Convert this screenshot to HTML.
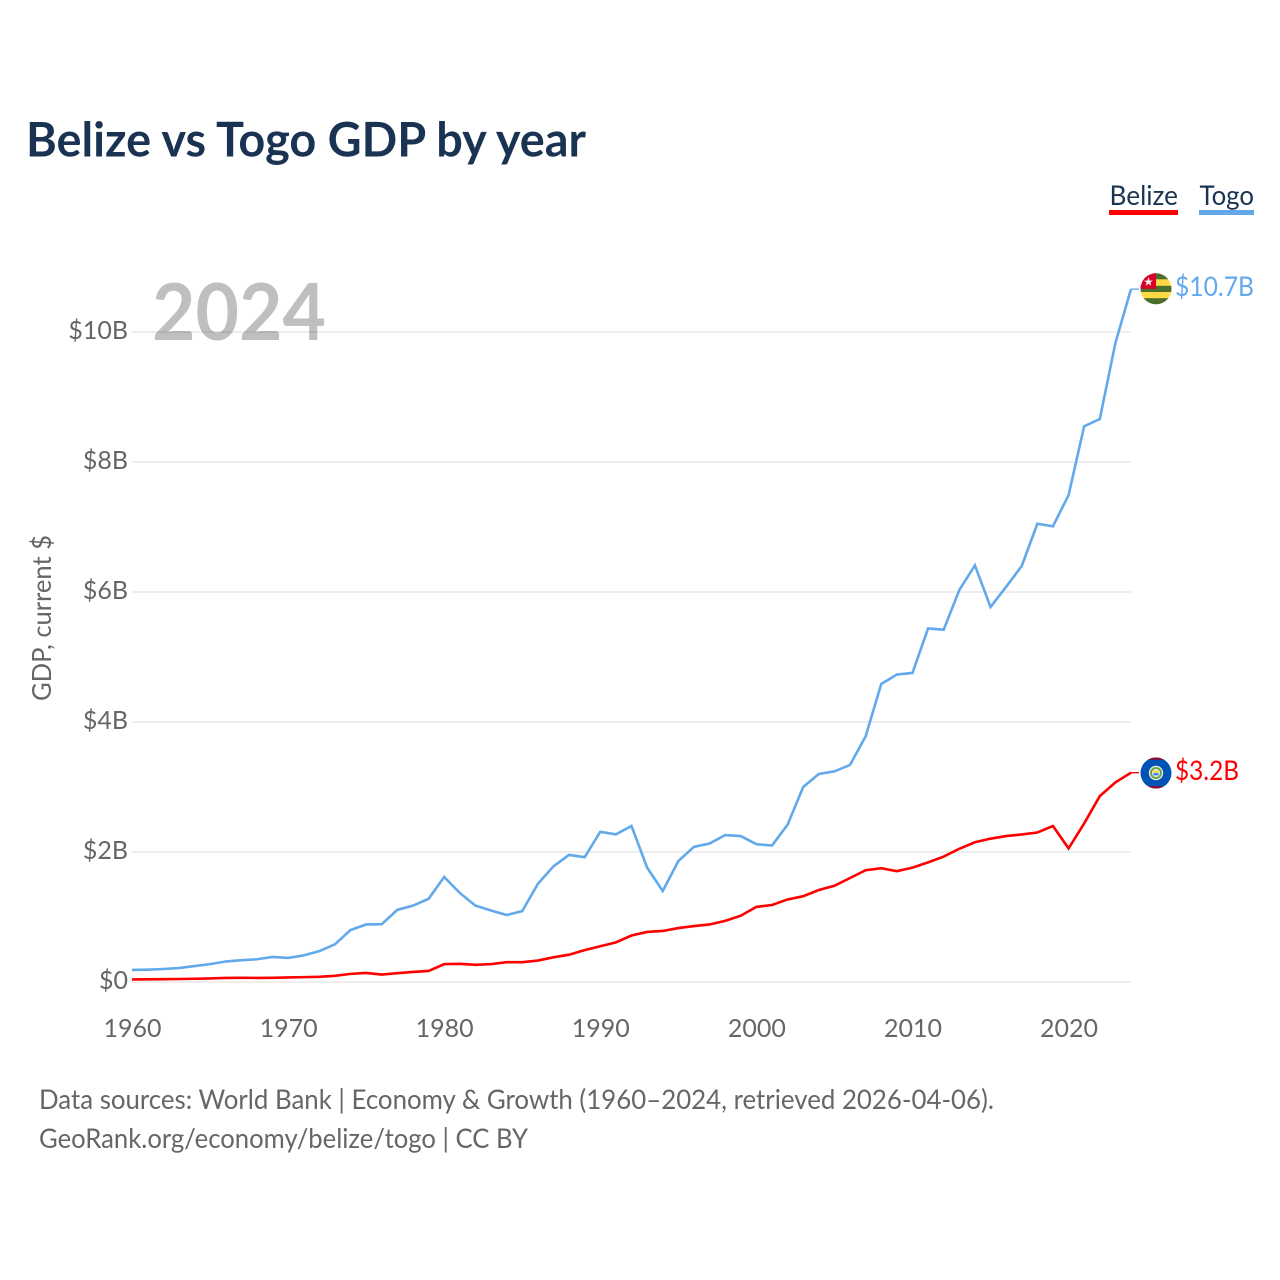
<!DOCTYPE html>
<html lang="en">
<head>
<meta charset="utf-8">
<title>Belize vs Togo GDP by year</title>
<style>
html,body{margin:0;padding:0;background:#fff;}
svg{display:block;font-family:Lato,Carlito,"Liberation Sans",sans-serif;}
</style>
</head>
<body>
<svg id="chart" xmlns="http://www.w3.org/2000/svg" width="1280" height="1280" viewBox="0 0 1280 1280">
  <defs>
    <clipPath id="flag-clip"><circle cx="0" cy="0" r="15.5"></circle></clipPath>
  </defs>
  <rect x="0" y="0" width="1280" height="1280" fill="#ffffff"></rect>
  <text x="26" y="156.5" font-size="48" font-weight="700" fill="#1a3353" textLength="560" lengthAdjust="spacingAndGlyphs">Belize vs Togo GDP by year</text>

  <text x="152" y="340" font-size="79" font-weight="700" fill="#bfbfbf" textLength="174" lengthAdjust="spacingAndGlyphs">2024</text>
  <g id="grid"></g>
  <g id="y-ticks"></g>
  <g id="x-ticks"></g>
  <text transform="translate(51,701) rotate(-90)" x="0" y="0" font-size="26" fill="#666666" textLength="166" lengthAdjust="spacingAndGlyphs">GDP, current $</text>

  <g>
    <g>
      <text x="1109.5" y="205" font-size="27.5" fill="#1a3353" textLength="68.5" lengthAdjust="spacingAndGlyphs">Belize</text>
      <rect x="1109" y="210" width="69" height="5" fill="#ff0000"></rect>
    </g>
    <g>
      <text x="1199.5" y="205" font-size="27.5" fill="#1a3353" textLength="54.5" lengthAdjust="spacingAndGlyphs">Togo</text>
      <rect x="1199" y="210" width="55" height="5" fill="#62a9ec"></rect>
    </g>
  </g>

  <path id="line-togo" fill="none" stroke="#62a9ec" stroke-width="2.6" stroke-linejoin="miter"></path>
  <path id="line-belize" fill="none" stroke="#ff0000" stroke-width="2.6" stroke-linejoin="miter"></path>
  <path id="connector-togo" fill="none" stroke="#62a9ec" stroke-width="1.3"></path>
  <path id="connector-belize" fill="none" stroke="#ff0000" stroke-width="1.3"></path>

  <g id="flag-togo">
    <g clip-path="url(#flag-clip)">
      <rect x="-16" y="-16" width="32" height="32" fill="#ffda44"></rect>
      <rect x="-16" y="-16" width="32" height="6.5" fill="#496e2d"></rect>
      <rect x="-16" y="-3" width="32" height="6.2" fill="#496e2d"></rect>
      <rect x="-16" y="9.4" width="32" height="6.6" fill="#496e2d"></rect>
      <rect x="-16" y="-16" width="16" height="16" fill="#d80027"></rect>
      <polygon points="-7.5,-11.5 -6.3,-8.2 -3,-8.2 -5.7,-6.2 -4.7,-3 -7.5,-5 -10.3,-3 -9.3,-6.2 -12,-8.2 -8.7,-8.2" fill="#f5f0f0"></polygon>
    </g>
  </g>
  <g id="flag-belize">
    <g clip-path="url(#flag-clip)">
      <rect x="-16" y="-16" width="32" height="32" fill="#0052b4"></rect>
      <rect x="-16" y="-16" width="32" height="2.6" fill="#a2001d"></rect>
      <rect x="-16" y="13.4" width="32" height="2.6" fill="#a2001d"></rect>
      <circle cx="0" cy="0" r="7.2" fill="#eeeeee"></circle>
      <circle cx="0" cy="0" r="5" fill="none" stroke="#6da544" stroke-width="2"></circle>
      <rect x="-2.6" y="-2.6" width="5.2" height="2.6" fill="#ffda44"></rect>
      <rect x="-2.6" y="0" width="5.2" height="2.4" fill="#338af3"></rect>
    </g>
  </g>
  <text id="end-label-togo" x="1175" font-size="27" fill="#62a9ec" textLength="79" lengthAdjust="spacingAndGlyphs"></text>
  <text id="end-label-belize" x="1175" font-size="27" fill="#ff0000" textLength="64" lengthAdjust="spacingAndGlyphs"></text>

  <g>
    <text x="39" y="1109" font-size="27.5" fill="#666666" textLength="955" lengthAdjust="spacingAndGlyphs">Data sources: World Bank | Economy &amp; Growth (1960–2024, retrieved 2026-04-06).</text>
    <text x="39" y="1148" font-size="27.5" fill="#666666" textLength="489" lengthAdjust="spacingAndGlyphs">GeoRank.org/economy/belize/togo | CC BY</text>
  </g>
</svg>
<script>
var startYear = 1960;
var xTickYears = [1960, 1970, 1980, 1990, 2000, 2010, 2020];
var yTickValues = [0, 2, 4, 6, 8, 10];
var yTickLabels = ["$0", "$2B", "$4B", "$6B", "$8B", "$10B"];
var togoValues = [0.185,0.19,0.2,0.215,0.245,0.275,0.315,0.335,0.35,0.385,0.37,0.41,0.475,0.58,0.8,0.885,0.89,1.11,1.175,1.28,1.615,1.37,1.175,1.1,1.03,1.09,1.51,1.78,1.955,1.92,2.31,2.27,2.4,1.76,1.4,1.86,2.08,2.13,2.26,2.245,2.12,2.1,2.42,3.0,3.2,3.24,3.34,3.78,4.585,4.73,4.755,5.44,5.42,6.03,6.41,5.77,6.08,6.4,7.05,7.01,7.49,8.55,8.66,9.83,10.66];
var belizeValues = [0.04,0.041,0.043,0.046,0.05,0.055,0.062,0.065,0.063,0.065,0.07,0.075,0.08,0.095,0.125,0.14,0.115,0.135,0.155,0.17,0.275,0.28,0.265,0.275,0.305,0.305,0.33,0.38,0.42,0.49,0.55,0.61,0.715,0.77,0.785,0.83,0.86,0.885,0.94,1.02,1.155,1.185,1.27,1.32,1.415,1.48,1.6,1.72,1.75,1.705,1.76,1.84,1.93,2.05,2.15,2.205,2.245,2.27,2.3,2.4,2.055,2.44,2.86,3.07,3.22];

var SVG_NS = "http://www.w3.org/2000/svg";
function xScale(year) { return 132 + (year - 1960) * (1131 - 132) / 64; }
function yScale(value) { return 982 - value * 65; }
function linePath(values) {
  var d = "";
  for (var i = 0; i < values.length; i++) {
    d += (i ? "L" : "M") + xScale(startYear + i).toFixed(2) + " " + yScale(values[i]).toFixed(2);
  }
  return d;
}
function endLabel(value) { return "$" + value.toFixed(1) + "B"; }

var gridGroup = document.getElementById("grid");
var yTickGroup = document.getElementById("y-ticks");
var xTickGroup = document.getElementById("x-ticks");

yTickValues.forEach(function (v, i) {
  var line = document.createElementNS(SVG_NS, "line");
  
  
  line.setAttribute("x1", xScale(1960));
  line.setAttribute("x2", xScale(2024));
  line.setAttribute("y1", yScale(v));
  line.setAttribute("y2", yScale(v));
  line.setAttribute("stroke", "#000000");
  line.setAttribute("stroke-opacity", "0.065");
  line.setAttribute("stroke-width", "2");
  gridGroup.appendChild(line);

  var label = document.createElementNS(SVG_NS, "text");
  
  
  label.setAttribute("x", "128");
  label.setAttribute("y", yScale(v) + 7);
  label.setAttribute("text-anchor", "end");
  label.setAttribute("font-size", "25");
  label.setAttribute("fill", "#666666");
  label.textContent = yTickLabels[i];
  yTickGroup.appendChild(label);
});

xTickYears.forEach(function (year) {
  var label = document.createElementNS(SVG_NS, "text");
  
  
  label.setAttribute("x", xScale(year) + 0.5);
  label.setAttribute("y", "1037");
  label.setAttribute("text-anchor", "middle");
  label.setAttribute("font-size", "25");
  label.setAttribute("fill", "#666666");
  label.textContent = String(year);
  xTickGroup.appendChild(label);
});

var togoLast = togoValues[togoValues.length - 1];
var belizeLast = belizeValues[belizeValues.length - 1];
var lastX = xScale(startYear + togoValues.length - 1);

document.getElementById("line-togo").setAttribute("d", linePath(togoValues));
document.getElementById("line-belize").setAttribute("d", linePath(belizeValues));
document.getElementById("connector-togo").setAttribute("d", "M" + lastX + " " + yScale(togoLast) + "H" + (lastX + 8));
document.getElementById("connector-belize").setAttribute("d", "M" + lastX + " " + yScale(belizeLast) + "H" + (lastX + 8));
document.getElementById("flag-togo").setAttribute("transform", "translate(1156," + (yScale(togoLast) - 0.3) + ")");
document.getElementById("flag-belize").setAttribute("transform", "translate(1156," + (yScale(belizeLast) + 0.3) + ")");

var togoLabel = document.getElementById("end-label-togo");
togoLabel.setAttribute("y", yScale(togoLast) + 7);
togoLabel.textContent = endLabel(togoLast);
var belizeLabel = document.getElementById("end-label-belize");
belizeLabel.setAttribute("y", yScale(belizeLast) + 7.3);
belizeLabel.textContent = endLabel(belizeLast);
</script>
</body>
</html>
